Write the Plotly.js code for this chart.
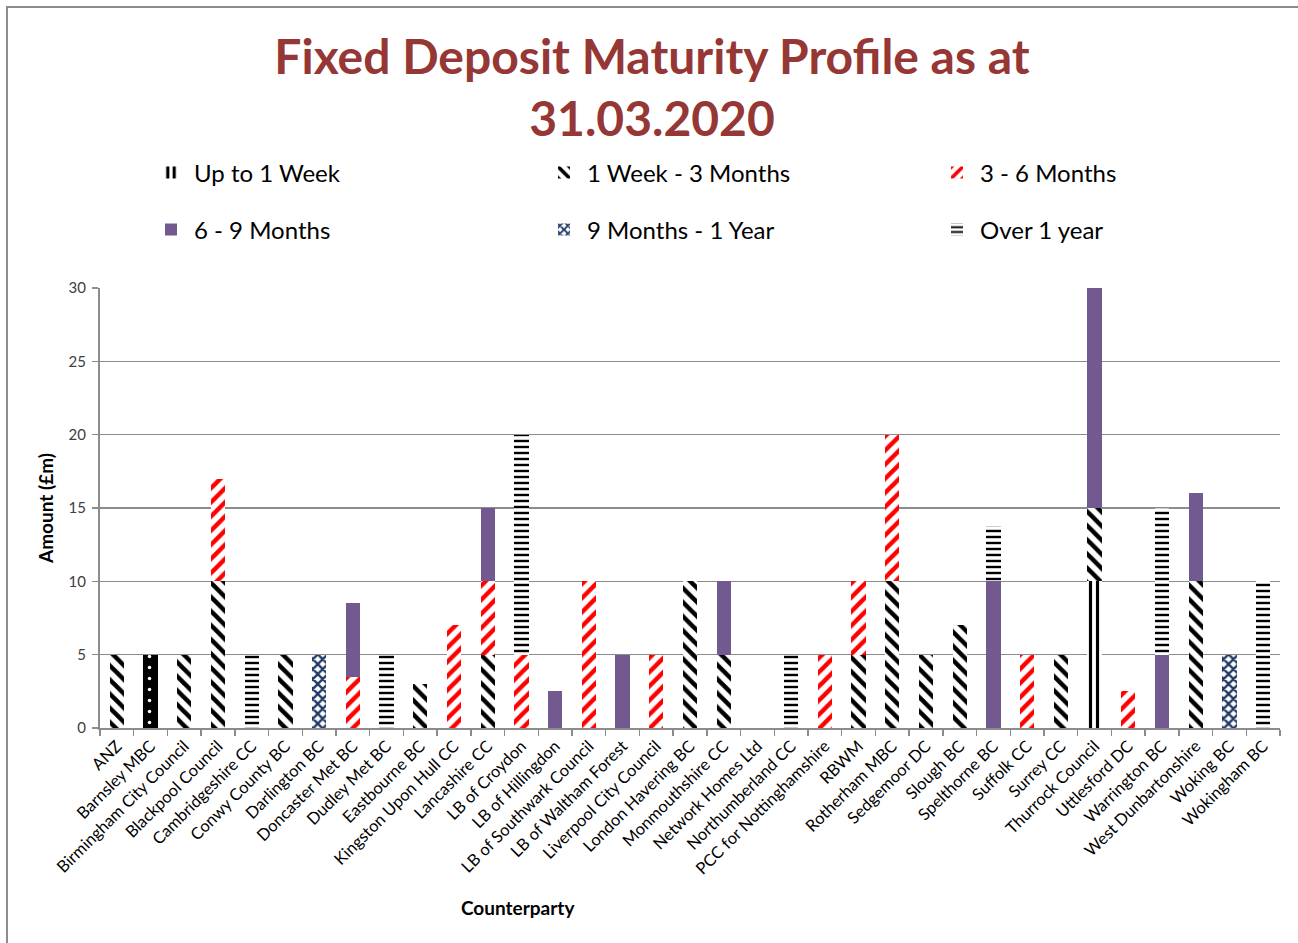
<!DOCTYPE html>
<html>
<head>
<meta charset="utf-8">
<script src="https://cdn.plot.ly/plotly-3.0.1.min.js"></script>
<style>html,body{margin:0;padding:0;background:#fff;}#chart{width:1298px;height:943px;}</style>
</head>
<body>
<div id="chart"></div>
<script>
const categories = ["ANZ","Barnsley MBC","Birmingham City Council","Blackpool Council","Cambridgeshire CC","Conwy County BC","Darlington BC","Doncaster Met BC","Dudley Met BC","Eastbourne BC","Kingston Upon Hull CC","Lancashire CC","LB of Croydon","LB of Hillingdon","LB of Southwark Council","LB of Waltham Forest","Liverpool City Council","London Havering BC","Monmouthshire CC","Network Homes Ltd","Northumberland CC","PCC for Nottinghamshire","RBWM","Rotherham MBC","Sedgemoor DC","Slough BC","Spelthorne BC","Suffolk CC","Surrey CC","Thurrock Council","Uttlesford DC","Warrington BC","West Dunbartonshire","Woking BC","Wokingham BC"];

const upTo1Week     = [0,5,0,0,0,0,0,0,0,0,0,0,0,0,0,0,0,0,0,0,0,0,0,0,0,0,0,0,0,10,0,0,0,0,0];
const week1To3Month = [5,0,5,10,0,5,0,0,0,3,0,5,0,0,0,0,0,10,5,0,0,0,5,10,5,7,0,0,5,5,0,0,10,0,0];
const month3To6     = [0,0,0,7,0,0,0,3.5,0,0,7,5,5,0,10,0,5,0,0,0,0,5,5,10,0,0,0,5,0,0,2.5,0,0,0,0];
const month6To9     = [0,0,0,0,0,0,0,5,0,0,0,5,0,2.5,0,5,0,0,5,0,0,0,0,0,0,0,10,0,0,15,0,5,6,0,0];
const month9To1Year = [0,0,0,0,0,0,5,0,0,0,0,0,0,0,0,0,0,0,0,0,0,0,0,0,0,0,0,0,0,0,0,0,0,5,0];
const over1Year     = [0,0,0,0,5,0,0,0,5,0,0,0,15,0,0,0,0,0,0,0,5,0,0,0,0,0,3.8,0,0,0,0,10,0,0,10];

const seriesNames = ["Up to 1 Week","1 Week - 3 Months","3 - 6 Months","6 - 9 Months","9 Months - 1 Year","Over 1 year"];

// per-point pattern for the first series (Barnsley drawn as black with white dots)
const upShape = categories.map(c => c === "Barnsley MBC" ? "." : "|");
const upFg = categories.map(c => c === "Barnsley MBC" ? "#ffffff" : "#000000");
const upBg = categories.map(c => c === "Barnsley MBC" ? "#000000" : "#ffffff");
const upSize = categories.map(c => c === "Barnsley MBC" ? 11 : 7);
const upSol = categories.map(c => c === "Barnsley MBC" ? 0.08 : 0.45);

const traces = [
  {name: seriesNames[0], y: upTo1Week, legend: "legend",
   marker: {color: "#ffffff", line: {width: 0}, pattern: {shape: upShape, fgcolor: upFg, bgcolor: upBg, size: upSize, solidity: upSol, fillmode: "replace"}}},
  {name: seriesNames[1], y: week1To3Month, legend: "legend2",
   marker: {color: "#ffffff", line: {width: 0}, pattern: {shape: "\\", fgcolor: "#000000", bgcolor: "#ffffff", size: 10, solidity: 0.45, fillmode: "replace"}}},
  {name: seriesNames[2], y: month3To6, legend: "legend3",
   marker: {color: "#ffffff", line: {width: 0}, pattern: {shape: "/", fgcolor: "#ff0000", bgcolor: "#ffffff", size: 10, solidity: 0.45, fillmode: "replace"}}},
  {name: seriesNames[3], y: month6To9, legend: "legend4",
   marker: {color: "#725a91", line: {width: 0}}},
  {name: seriesNames[4], y: month9To1Year, legend: "legend5",
   marker: {color: "#ffffff", line: {width: 0}, pattern: {shape: "x", fgcolor: "#1f3864", bgcolor: "#ffffff", size: 7, solidity: 0.55, fillmode: "replace"}}},
  {name: seriesNames[5], y: over1Year, legend: "legend6",
   marker: {color: "#ffffff", line: {width: 0}, pattern: {shape: "-", fgcolor: "#000000", bgcolor: "#ffffff", size: 6, solidity: 0.4, fillmode: "replace"}}}
].map(t => Object.assign({type: "bar", x: categories, hoverinfo: "x+y+name"}, t));

const fontFam = "Lato, 'Open Sans', sans-serif";
const L = 100, R = 1280, T = 288, B = 728;
const W = R - L, H = B - T;
const px = v => (v - L) / W;
const py = v => (B - v) / H;

function legendAt(xPix, yPix) {
  return {
    orientation: "h", xref: "container", yref: "container",
    xanchor: "left", yanchor: "middle",
    x: xPix / 1298, y: 1 - yPix / 943,
    itemwidth: 36,
    font: {family: fontFam, size: 24, color: "#000000"},
    bgcolor: "rgba(0,0,0,0)"
  };
}

const layout = {
  width: 1298, height: 943,
  paper_bgcolor: "#ffffff", plot_bgcolor: "#ffffff",
  margin: {l: L, r: 1298 - R, t: T, b: 943 - B},
  barmode: "stack", bargap: 0.58,
  showlegend: true,
  title: {
    text: "<b>Fixed Deposit Maturity Profile as at<br>31.03.2020</b>",
    font: {family: fontFam, size: 48, color: "#953735"},
    x: 652 / 1298, xanchor: "center", xref: "container",
    y: 1 - 74 / 943, yanchor: "middle", yref: "container"
  },
  legend:  legendAt(148, 173),
  legend2: legendAt(541, 173),
  legend3: legendAt(934, 173),
  legend4: legendAt(148, 230),
  legend5: legendAt(541, 230),
  legend6: legendAt(934, 230),
  xaxis: {
    type: "category",
    tickangle: -45,
    tickfont: {family: fontFam, size: 16.5, color: "#000000"},
    showgrid: false,
    showline: true, linecolor: "#8c8c8c", linewidth: 2,
    ticks: "outside", tickson: "boundaries", ticklen: 6, tickcolor: "#8c8c8c", tickwidth: 1.5,
    title: {text: ""},
    automargin: false
  },
  yaxis: {
    range: [0, 30], dtick: 5, tick0: 0,
    tickfont: {family: fontFam, size: 15, color: "#404040"},
    ticklabelstandoff: 3,
    showgrid: true, gridcolor: "#8c8c8c", gridwidth: 1.5,
    showline: true, linecolor: "#8c8c8c", linewidth: 2,
    ticks: "outside", ticklen: 6, tickcolor: "#8c8c8c", tickwidth: 1.5,
    zeroline: false,
    title: {text: "<b>Amount (£m)</b>", font: {family: fontFam, size: 19, color: "#000000"}, standoff: 10},
    automargin: false
  },
  annotations: [
    {text: "<b>Counterparty</b>", xref: "paper", yref: "paper", x: px(518), y: py(907),
     xanchor: "center", yanchor: "middle", showarrow: false,
     font: {family: fontFam, size: 19, color: "#000000"}}
  ],
  shapes: [
    {type: "line", xref: "paper", yref: "paper", x0: px(7), x1: px(7), y0: py(6), y1: py(943), line: {color: "#8c8c8c", width: 2}},
    {type: "line", xref: "paper", yref: "paper", x0: px(7), x1: px(1298), y0: py(7), y1: py(7), line: {color: "#8c8c8c", width: 2}}
  ]
};

Plotly.newPlot("chart", traces, layout, {displayModeBar: false, staticPlot: true});
</script>
</body>
</html>
